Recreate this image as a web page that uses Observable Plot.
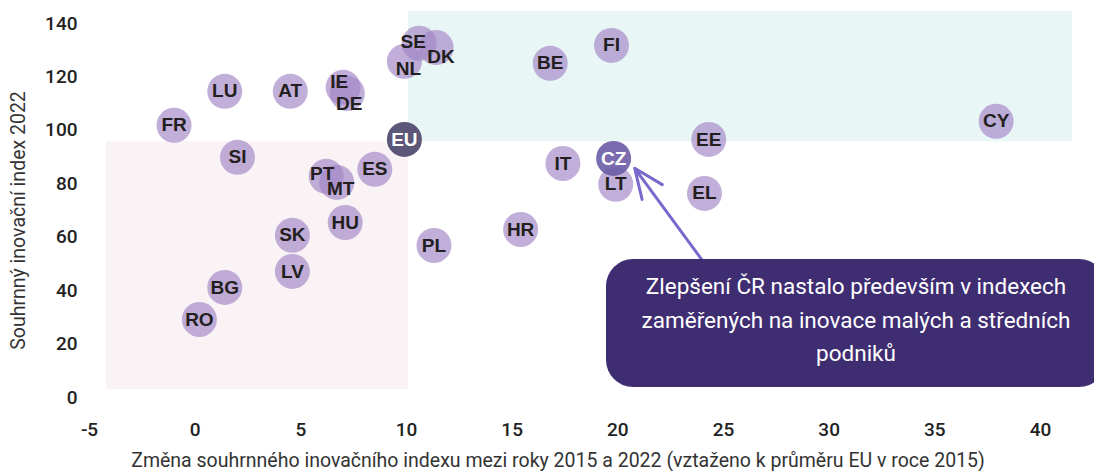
<!DOCTYPE html>
<html>
<head>
<meta charset="utf-8">
<script src="https://cdn.jsdelivr.net/npm/d3@7"></script>
<script src="https://cdn.jsdelivr.net/npm/@observablehq/plot@0.6"></script>
<style>
  html, body { margin: 0; padding: 0; background: #fff; overflow: hidden; }
  #wrap { position: relative; width: 1094px; height: 471px; overflow: hidden; }
  #callout {
    position: absolute; left: 606px; top: 259px; width: 500px; height: 128px;
    box-sizing: border-box; padding-top: 11px;
    background: #3f2d72; border-radius: 27px;
    color: #fff; font-family: Roboto, "Noto Sans", sans-serif; font-size: 22.5px; font-weight: 400;
    line-height: 33.5px; text-align: center;
  }
</style>
</head>
<body>
<div id="wrap"></div>
<script>
// ---- data ----
const countries = ["FR","LU","AT","IE","DE","SE","DK","NL","EU","SI","PT","MT","ES","HU","SK","LV","BG","RO","PL","BE","FI","EE","IT","CZ","LT","EL","HR","CY"];
const change2015_2022 = [-1.0, 1.4, 4.5, 7.0, 7.2, 10.6, 11.4, 9.9, 9.9, 2.0, 6.2, 6.7, 8.5, 7.1, 4.6, 4.6, 1.4, 0.2, 11.3, 16.8, 19.7, 24.3, 17.4, 19.8, 19.9, 24.1, 15.4, 37.9];
const index2022 = [101.9, 114.6, 114.6, 116.1, 113.8, 132.6, 131.0, 125.8, 96.6, 89.9, 82.8, 80.5, 85.4, 65.5, 60.7, 47.2, 41.2, 29.2, 56.9, 125.1, 131.8, 96.6, 87.6, 89.5, 79.8, 76.4, 62.9, 103.4];
const xTicks = [-5, 0, 5, 10, 15, 20, 25, 30, 35, 40];
const yTicks = [0, 20, 40, 60, 80, 100, 120, 140];
// background zones (data coordinates)
const zoneNames = ["lagging", "leading"];
const zoneX1 = [-4.2, 10.1];
const zoneX2 = [10.1, 41.5];
const zoneY1 = [2.9, 95.7];
const zoneY2 = [95.7, 144.6];
// annotation arrow (data coordinates)
const arrowFrom = [24.0, 51.3];
const arrowTo = [20.8, 85.8];
const xTitle = "Změna souhrnného inovačního indexu mezi roky 2015 a 2022 (vztaženo k průměru EU v roce 2015)";
const yTitle = "Souhrnný inovační index 2022";
const calloutText = ["Zlepšení ČR nastalo především v indexech", "zaměřených na inovace malých a středních", "podniků"];

// ---- build ----
const rows = countries.map((c, i) => ({code: c, x: change2015_2022[i], y: index2022[i]}));
const zones = zoneNames.map((n, i) => ({name: n, x1: zoneX1[i], x2: zoneX2[i], y1: zoneY1[i], y2: zoneY2[i]}));
const zoneFill = {lagging: "#f9f3f5", leading: "#e9f6f6"};
const special = new Set(["EU", "CZ"]);
const nudges = {IE: [-4, -5], DE: [2, 10], SE: [-6, -1], DK: [5, 9], NL: [4, 7], PT: [-4, -2], MT: [4, 6]};
const plain = rows.filter(d => !special.has(d.code) && !(d.code in nudges));

const labelStyle = {text: "code", fontFamily: "'Liberation Sans', Arial, sans-serif", fontWeight: "bold", fontSize: 19, fill: "#231f20"};

const marks = [
  Plot.rect(zones, {x1: "x1", x2: "x2", y1: "y1", y2: "y2", fill: d => zoneFill[d.name]}),
  Plot.axisX({ticks: xTicks, tickSize: 0, tickPadding: 25, fontSize: 19, fontWeight: 500, label: null, tickFormat: d => String(d)}),
  Plot.axisY({ticks: yTicks, tickSize: 0, tickPadding: 12, fontSize: 19, fontWeight: 500, label: null, tickFormat: d => String(d)}),
  Plot.dot(rows.filter(d => !special.has(d.code)), {x: "x", y: "y", r: 17.5, fill: "#a184c4", fillOpacity: 0.65, stroke: "none"}),
  Plot.dot(rows.filter(d => d.code === "EU"), {x: "x", y: "y", r: 17.5, fill: "#5c5678", stroke: "none"}),
  Plot.dot(rows.filter(d => d.code === "CZ"), {x: "x", y: "y", r: 17.5, fill: "#6b5ca6", fillOpacity: 0.9, stroke: "none"}),
  Plot.text(plain, {x: "x", y: "y", ...labelStyle}),
  ...Object.entries(nudges).map(([code, [dx, dy]]) =>
    Plot.text(rows.filter(d => d.code === code), {x: "x", y: "y", dx, dy, ...labelStyle})),
  Plot.text(rows.filter(d => special.has(d.code)), {x: "x", y: "y", ...labelStyle, fill: "#ffffff"}),
  Plot.arrow([{x1: arrowFrom[0], y1: arrowFrom[1], x2: arrowTo[0], y2: arrowTo[1]}], {x1: "x1", y1: "y1", x2: "x2", y2: "y2", stroke: "#7869cc", strokeWidth: 3, headLength: 16, headAngle: 46}),
  Plot.text([xTitle], {text: d => d, frameAnchor: "bottom", textAnchor: "middle", lineAnchor: "middle", dx: -7, dy: 63, fontSize: 19.5, fill: "#333"}),
  Plot.text([yTitle], {text: d => d, frameAnchor: "left", textAnchor: "middle", lineAnchor: "middle", dx: -71, dy: 10, rotate: -90, fontSize: 19.5, fill: "#333"})
];

const chart = Plot.plot({
  width: 1094,
  height: 471,
  marginLeft: 89,
  marginRight: 54,
  marginTop: 23,
  marginBottom: 74,
  style: {fontFamily: "Roboto, 'Noto Sans', sans-serif", color: "#222", background: "#fff", overflow: "visible"},
  x: {domain: [-5, 40]},
  y: {domain: [0, 140]},
  marks
});

const wrap = document.getElementById("wrap");
wrap.appendChild(chart);
const box = document.createElement("div");
box.id = "callout";
box.innerHTML = calloutText.map(t => `<div>${t}</div>`).join("");
wrap.appendChild(box);
</script>
</body>
</html>
